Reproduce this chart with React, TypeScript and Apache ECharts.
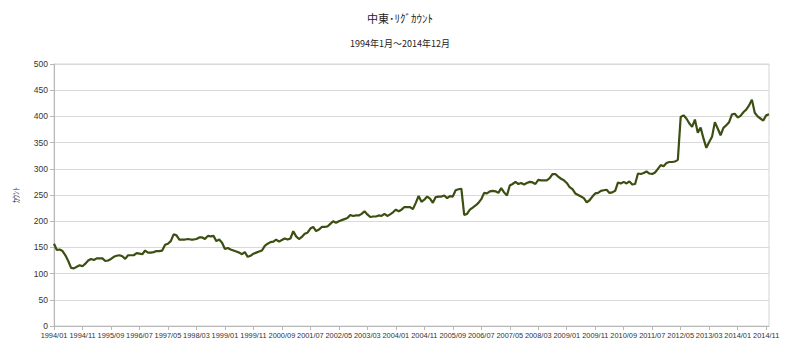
import React, { useEffect, useRef } from "react";
import * as echarts from "echarts";

const TITLE = "中東･ﾘｸﾞｶｳﾝﾄ";
const SUBTITLE = "1994年1月～2014年12月";
const Y_NAME = "ｶｳﾝﾄ";

const START_YEAR = 1994;
const END_YEAR = 2014;

// Monthly rig count, one array per year (Jan..Dec)
const v1994 = [157, 145, 146, 143, 135, 124, 111, 110, 113, 116, 114, 119];
const v1995 = [125, 128, 126, 129, 129, 129, 124, 125, 128, 132, 134, 135];
const v1996 = [133, 128, 135, 135, 135, 139, 138, 137, 144, 140, 140, 141];
const v1997 = [143, 143, 144, 155, 157, 162, 175, 173, 165, 165, 165, 166];
const v1998 = [165, 165, 166, 169, 169, 166, 172, 171, 172, 162, 165, 159];
const v1999 = [147, 149, 146, 144, 142, 140, 137, 141, 132, 134, 138, 140];
const v2000 = [142, 144, 153, 157, 160, 161, 165, 161, 164, 167, 165, 167];
const v2001 = [181, 171, 166, 170, 176, 178, 186, 189, 181, 184, 189, 189];
const v2002 = [190, 195, 200, 197, 200, 202, 204, 206, 212, 210, 211, 211];
const v2003 = [214, 219, 213, 208, 209, 209, 211, 210, 214, 210, 213, 217];
const v2004 = [222, 219, 222, 227, 227, 227, 223, 235, 248, 237, 241, 247];
const v2005 = [243, 235, 246, 247, 247, 249, 244, 248, 247, 259, 261, 262];
const v2006 = [212, 214, 222, 226, 230, 235, 242, 254, 253, 257, 258, 257];
const v2007 = [254, 263, 255, 249, 268, 271, 275, 271, 273, 270, 273, 275];
const v2008 = [274, 271, 279, 278, 278, 278, 282, 290, 290, 285, 281, 278];
const v2009 = [273, 265, 261, 253, 250, 247, 244, 236, 240, 247, 253, 254];
const v2010 = [258, 259, 260, 254, 255, 258, 274, 272, 275, 272, 276, 270];
const v2011 = [271, 291, 290, 292, 295, 291, 290, 293, 300, 307, 305, 311];
const v2012 = [313, 313, 314, 317, 399, 402, 396, 387, 380, 394, 369, 379];
const v2013 = [358, 340, 351, 361, 389, 377, 364, 378, 383, 389, 404, 405];
const v2014 = [398, 401, 408, 413, 421, 432, 407, 400, 396, 392, 402, 404];

const yearly = [
  v1994, v1995, v1996, v1997, v1998, v1999, v2000, v2001, v2002, v2003, v2004,
  v2005, v2006, v2007, v2008, v2009, v2010, v2011, v2012, v2013, v2014,
];

const Y_MIN = 0;
const Y_MAX = 500;
const Y_STEP = 50;
const LABEL_EVERY = 10;

export default function App() {
  const ref = useRef<HTMLDivElement>(null);

  useEffect(() => {
    if (!ref.current) return;
    const chart = echarts.init(ref.current, null, { renderer: "svg" });

    const categories: string[] = [];
    for (let y = START_YEAR; y <= END_YEAR; y++) {
      for (let m = 1; m <= 12; m++) {
        categories.push(`${y}/${m < 10 ? "0" + m : m}`);
      }
    }
    const values: number[] = ([] as number[]).concat(...yearly);

    const labelFont = "'Liberation Sans', Arial, sans-serif";
    const cjkFont = "'Noto Sans CJK JP', 'Noto Sans', sans-serif";
    const showIdx = (i: number) => i % LABEL_EVERY === 0;

    chart.setOption({
      animation: false,
      backgroundColor: "#ffffff",
      title: [
        {
          text: TITLE,
          left: "center",
          top: 7,
          textStyle: { fontSize: 11, fontWeight: "normal", color: "#222", fontFamily: cjkFont },
        },
        {
          text: SUBTITLE,
          left: "center",
          top: 34,
          textStyle: { fontSize: 9, fontWeight: "normal", color: "#222", fontFamily: cjkFont },
        },
      ],
      grid: {
        left: 54,
        right: 31,
        top: 64,
        bottom: 29,
        show: true,
        borderColor: "#d4d4d4",
        borderWidth: 1,
        backgroundColor: "transparent",
      },
      xAxis: {
        type: "category",
        data: categories,
        boundaryGap: false,
        axisLine: { show: true, lineStyle: { color: "#b8b8b8", width: 1 } },
        axisTick: { show: true, interval: showIdx, length: 4, lineStyle: { color: "#b8b8b8" } },
        axisLabel: {
          interval: showIdx,
          showMinLabel: true,
          fontSize: 7.4,
          color: "#333",
          fontFamily: labelFont,
          margin: 6,
          hideOverlap: false,
        },
        splitLine: { show: false },
      },
      yAxis: {
        type: "value",
        min: Y_MIN,
        max: Y_MAX,
        interval: Y_STEP,
        name: Y_NAME,
        nameLocation: "middle",
        nameRotate: 90,
        nameGap: 35,
        nameTextStyle: { fontSize: 8, color: "#333", fontFamily: cjkFont },
        axisLine: { show: true, lineStyle: { color: "#b8b8b8", width: 1 } },
        axisTick: { show: true, length: 4, lineStyle: { color: "#b8b8b8" } },
        axisLabel: { fontSize: 8.5, color: "#333", fontFamily: labelFont, margin: 6 },
        splitLine: { show: true, lineStyle: { color: "#d9d9d9", width: 1.2 } },
      },
      series: [
        {
          type: "line",
          data: values,
          showSymbol: false,
          symbol: "none",
          lineStyle: { color: "#3c4f12", width: 2.2 },
          itemStyle: { color: "#3c4f12" },
        },
      ],
    });

    return () => chart.dispose();
  }, []);

  return (
    <div
      ref={ref}
      style={{ position: "fixed", left: 0, top: 0, width: 800, height: 355, background: "#fff" }}
    />
  );
}
